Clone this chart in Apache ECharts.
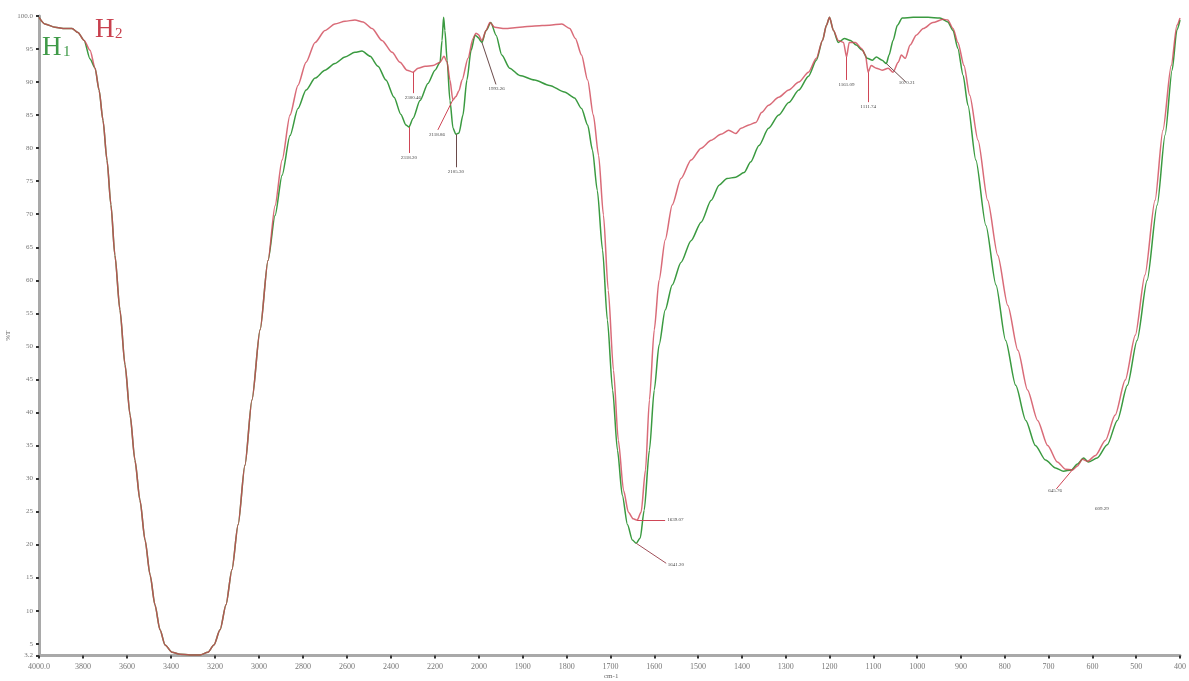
<!DOCTYPE html>
<html>
<head>
<meta charset="utf-8">
<script src="https://cdn.jsdelivr.net/npm/echarts@6/dist/echarts.min.js"></script>
<style>
  html, body { margin: 0; padding: 0; background: #ffffff; }
  #chart { width: 1189px; height: 681px; }
</style>
</head>
<body>
<div id="chart"></div>
<script>
// FTIR transmittance spectra of H1 and H2 (wavenumber in cm-1, transmittance in %T)
const h1Wn = [4000, 3973, 3927, 3882, 3850, 3823, 3795, 3768, 3745, 3727, 3709, 3691, 3673, 3655, 3632, 3609, 3586, 3564, 3541, 3518, 3495, 3473, 3450, 3427, 3395, 3359, 3314, 3268, 3232, 3205, 3177, 3150, 3123, 3095, 3064, 3032, 2995, 2959,
  2927, 2895, 2859, 2823, 2786, 2745, 2700, 2655, 2609, 2564, 2532, 2495, 2459, 2423, 2386, 2355, 2332, 2318.20, 2300, 2268, 2232, 2200, 2177, 2168, 2161, 2155, 2145, 2132, 2118, 2105.30, 2091, 2073, 2055, 2036, 2018, 2000,
  1993.26, 1984, 1973, 1961, 1948, 1930, 1907, 1873, 1839, 1805, 1782, 1766, 1752, 1741, 1730, 1718, 1707, 1695, 1684, 1673, 1661, 1650, 1641.20, 1632, 1623, 1611, 1600, 1589, 1575, 1559, 1539, 1516, 1493, 1470, 1452, 1434, 1414, 1395, 1380, 1361, 1339, 1316, 1293, 1270, 1248, 1230, 1216, 1207, 1200, 1191, 1180, 1166, 1152, 1139, 1125, 1114, 1102, 1093, 1080, 1070.21, 1064, 1055, 1045, 1034, 1009, 975, 948, 930, 918, 907, 895, 884, 866, 843, 820, 798, 775, 752, 730, 707, 684, 666, 648, 634, 620, 609.29, 589, 566, 543, 520, 498, 475, 452, 434, 418, 407, 400];
const h1T = [99.8, 98.8, 98.3, 98.1, 98.1, 97.5, 96.3, 93.5, 92.1, 88.8, 84.2, 78.2, 71.4, 63.8, 55.5, 47.2, 39.6, 32.8, 26.7, 20.7, 15.4, 10.9, 7.1, 4.8, 3.7, 3.4, 3.3, 3.3, 3.7, 4.8, 7.1, 10.9, 16.2, 23.0, 32.0, 41.9, 52.5, 63.0,
  69.8, 75.9, 81.9, 86.0, 88.8, 90.6, 91.8, 92.8, 93.8, 94.5, 94.7, 93.9, 92.4, 90.3, 87.7, 85.1, 83.5, 83.2, 84.5, 87.2, 89.8, 91.8, 93.0, 96.3, 99.8, 97.8, 93.3, 87.2, 83.0, 82.1, 82.3, 85.0, 90.3, 94.8, 97.1, 96.6,
  96.0, 97.8, 99.0, 97.1, 94.1, 92.1, 91.0, 90.3, 89.5, 88.5, 87.6, 86.0, 83.5, 79.7, 73.6, 64.6, 54.0, 43.4, 34.3, 27.5, 23.0, 20.7, 20.2, 21.0, 25.2, 34.3, 43.4, 50.2, 55.5, 59.3, 62.7, 66.0, 68.8, 72.1, 74.4, 75.4, 75.6, 76.3, 77.9, 80.4, 83.0, 85.0, 86.9, 88.8, 90.9, 93.3, 96.3, 98.6, 99.8, 97.8, 96.0, 96.6, 96.3, 95.6, 94.8, 93.6, 93.3, 93.8, 93.3, 92.8, 94.1, 96.3, 98.6, 99.7, 99.8, 99.8, 99.7, 99.1, 97.8, 95.1, 91.0, 86.5, 78.2, 68.3, 59.3, 50.9, 44.1, 38.8, 35.0, 32.8, 31.6, 31.1, 31.3, 32.2, 33.1, 32.5, 33.1, 35.1, 38.8, 44.1, 50.9, 60.0, 71.4, 82.0, 91.8, 97.9, 99.4];

const h2Wn = [4000, 3973, 3927, 3882, 3850, 3823, 3795, 3768, 3745, 3727, 3709, 3691, 3673, 3655, 3632, 3609, 3586, 3564, 3541, 3518, 3495, 3473, 3450, 3427, 3395, 3359, 3314, 3268, 3232, 3205, 3177, 3150, 3123, 3095, 3064, 3032, 2995, 2959,
  2927, 2895, 2859, 2823, 2786, 2745, 2700, 2655, 2609, 2564, 2527, 2486, 2441, 2395, 2359, 2327, 2300.46, 2277, 2245, 2209, 2177, 2159, 2145, 2132, 2118.86, 2105, 2091, 2077, 2050, 2027, 2014, 2000,
  1993, 1984, 1975, 1964, 1941, 1907, 1873, 1839, 1811, 1793, 1780, 1766, 1752, 1739, 1727, 1716, 1705, 1693, 1682, 1670, 1659, 1648, 1639.07, 1630, 1620, 1611, 1600, 1589, 1575, 1559, 1539, 1516, 1493, 1470, 1448, 1430, 1414, 1402, 1384, 1368, 1355, 1339, 1316, 1293, 1270, 1248, 1230, 1216, 1207, 1200, 1191, 1180, 1168, 1161.09, 1155, 1141, 1127, 1118, 1111.74, 1105, 1093, 1080, 1066, 1055, 1043, 1036, 1027, 1016, 1002, 986, 964, 941, 930, 918, 907, 893, 880, 861, 839, 816, 793, 770, 748, 725, 702, 680, 661, 645.76, 634, 623, 611, 593, 570, 548, 525, 502, 480, 457, 439, 420, 407, 400];
const h2T = [99.8, 98.8, 98.3, 98.1, 98.1, 97.5, 96.3, 94.8, 92.1, 88.8, 84.2, 78.2, 71.4, 63.8, 55.5, 47.2, 39.6, 32.8, 26.7, 20.7, 15.4, 10.9, 7.1, 4.8, 3.7, 3.4, 3.3, 3.3, 3.7, 4.8, 7.1, 10.9, 16.2, 23.0, 32.0, 41.9, 52.5, 63.0,
  71.3, 78.2, 85.0, 89.5, 93.0, 96.0, 97.8, 98.8, 99.2, 99.4, 99.1, 98.1, 96.3, 94.5, 93.0, 91.8, 91.5, 92.1, 92.4, 92.5, 93.0, 93.9, 93.0, 90.3, 87.3, 87.8, 88.7, 90.3, 93.6, 96.6, 97.4, 97.1,
  96.3, 97.8, 99.0, 98.3, 98.1, 98.3, 98.5, 98.6, 98.8, 98.1, 96.6, 94.1, 90.3, 85.0, 78.9, 69.9, 58.5, 46.4, 35.8, 28.2, 24.9, 23.9, 23.7, 24.9, 31.3, 41.9, 52.5, 60.0, 66.1, 71.4, 75.4, 78.2, 80.0, 81.2, 82.1, 82.7, 82.2, 83.0, 83.5, 83.9, 85.4, 86.5, 87.7, 88.8, 90.0, 91.5, 93.6, 96.3, 98.6, 99.8, 97.8, 96.3, 96.0, 93.8, 96.0, 96.0, 95.1, 94.1, 91.5, 92.5, 92.1, 91.8, 92.1, 91.5, 93.0, 94.1, 93.6, 95.6, 97.1, 98.1, 99.0, 99.5, 99.4, 98.1, 96.0, 92.5, 88.0, 81.2, 72.1, 63.8, 56.2, 49.4, 43.4, 38.8, 35.0, 32.5, 31.4, 31.3, 31.9, 32.9, 32.6, 33.5, 35.8, 39.6, 44.9, 51.7, 60.8, 72.1, 82.7, 92.5, 98.6, 99.7];

// Labelled band positions (cm-1) and the spectrum each belongs to
const peakWn = [2300.46, 2318.20, 2118.86, 2105.30, 1993.26, 1639.07, 1641.20, 1161.09, 1111.74, 1070.21, 645.76, 609.29];
const peakSeries = ['H2', 'H1', 'H2', 'H1', 'H1', 'H2', 'H1', 'H2', 'H2', 'H1', 'H2', 'H1'];

// Axis tick values
const yTickValues = [3.2, 5, 10, 15, 20, 25, 30, 35, 40, 45, 50, 55, 60, 65, 70, 75, 80, 85, 90, 95, 100];

const RED = '#cf4656';
const GREEN = '#3a9a40';
const LEADER_DARK = '#6a4a4a';

// Leader line offsets in pixels from the band point to its label
const leaderLayout = [
  { dx: 0, dy: 21, color: RED },
  { dx: 0, dy: 26, color: RED },
  { dx: -15, dy: 30, color: RED },
  { dx: 0, dy: 33, color: LEADER_DARK },
  { dx: 14, dy: 42, color: LEADER_DARK },
  { dx: 28, dy: 0, color: RED },
  { dx: 30, dy: 20, color: '#a0505a' },
  { dx: 0, dy: 23, color: RED },
  { dx: 0, dy: 30, color: RED },
  { dx: 19, dy: 18, color: LEADER_DARK },
  { dx: -16, dy: 19, color: RED },
  { dx: 13, dy: 42, color: 'rgba(0,0,0,0)' }
];

function pairs(wn, t, lo, hi) {
  const out = [];
  for (let i = 0; i < wn.length; i++) {
    if (wn[i] >= lo && wn[i] <= hi) out.push([wn[i], t[i]]);
  }
  return out;
}

const FONT = '"Liberation Serif", "DejaVu Serif", serif';
const axisLineStyle = { color: '#a9a9a9', width: 3 };
const tickStyle = { color: '#333', width: 2 };

const GRID_TOP = 16;
const GRID_H = 639.6;

const chart = echarts.init(document.getElementById('chart'), null, { renderer: 'canvas' });

const lineCommon = {
  type: 'line',
  showSymbol: false,
  symbol: 'none',
  smooth: 0.25,
  smoothMonotone: 'x',
  animation: false,
  clip: false
};

const option = {
  backgroundColor: '#ffffff',
  animation: false,
  grid: [
    { left: 39, top: GRID_TOP, width: 440, height: GRID_H },
    { left: 479, top: GRID_TOP, width: 704, height: GRID_H }
  ],
  xAxis: [
    {
      gridIndex: 0, type: 'value', min: 2000, max: 4000, interval: 200, inverse: true,
      axisLine: { lineStyle: axisLineStyle },
      axisTick: { length: 3, lineStyle: tickStyle },
      splitLine: { show: false },
      axisLabel: {
        margin: 7, fontSize: 8, color: '#777', fontFamily: FONT,
        formatter: v => (v === 4000 ? '4000.0' : String(v))
      }
    },
    {
      gridIndex: 1, type: 'value', min: 400, max: 2000, interval: 100, inverse: true,
      axisLine: { lineStyle: axisLineStyle },
      axisTick: { length: 3, lineStyle: tickStyle },
      splitLine: { show: false },
      axisLabel: {
        margin: 7, fontSize: 8, color: '#777', fontFamily: FONT,
        showMaxLabel: false,
        formatter: v => String(v)
      }
    }
  ],
  yAxis: [
    {
      gridIndex: 0, type: 'value', min: 3.2, max: 100,
      name: '%T', nameLocation: 'middle', nameGap: 27, nameRotate: 90,
      nameTextStyle: { fontSize: 7, color: '#666', fontFamily: FONT },
      axisLine: { show: true, lineStyle: axisLineStyle },
      axisTick: { show: true, length: 3, lineStyle: tickStyle, customValues: yTickValues },
      splitLine: { show: false },
      axisLabel: {
        margin: 6, fontSize: 7, color: '#777', fontFamily: FONT,
        customValues: yTickValues,
        formatter: v => (v === 100 ? '100.0' : String(v))
      }
    },
    {
      gridIndex: 1, type: 'value', min: 3.2, max: 100, show: false,
      splitLine: { show: false }
    }
  ],
  series: [
    Object.assign({}, lineCommon, {
      id: 'h1L', name: 'H1', xAxisIndex: 0, yAxisIndex: 0,
      data: pairs(h1Wn, h1T, 2000, 4000),
      lineStyle: { color: GREEN, width: 1.5 }, z: 2
    }),
    Object.assign({}, lineCommon, {
      id: 'h1R', name: 'H1', xAxisIndex: 1, yAxisIndex: 1,
      data: pairs(h1Wn, h1T, 400, 2000),
      lineStyle: { color: GREEN, width: 1.5 }, z: 2
    }),
    Object.assign({}, lineCommon, {
      id: 'h2L', name: 'H2', xAxisIndex: 0, yAxisIndex: 0,
      data: pairs(h2Wn, h2T, 2000, 4000),
      lineStyle: { color: RED, width: 1.5, opacity: 0.8 }, z: 3
    }),
    Object.assign({}, lineCommon, {
      id: 'h2R', name: 'H2', xAxisIndex: 1, yAxisIndex: 1,
      data: pairs(h2Wn, h2T, 400, 2000),
      lineStyle: { color: RED, width: 1.5, opacity: 0.8 }, z: 3
    })
  ],
  graphic: [
    { type: 'text', left: 95, top: 16, style: { text: 'H', fontSize: 27, fontFamily: FONT, fill: '#c8404e' } },
    { type: 'text', left: 115, top: 27, style: { text: '2', fontSize: 15, fontFamily: FONT, fill: '#c8404e' } },
    { type: 'text', left: 42, top: 34, style: { text: 'H', fontSize: 27, fontFamily: FONT, fill: '#3f9a48' } },
    { type: 'text', left: 63, top: 45, style: { text: '1', fontSize: 15, fontFamily: FONT, fill: '#3f9a48' } },
    { type: 'text', left: 604, top: 673, style: { text: 'cm-1', fontSize: 7, fontFamily: FONT, fill: '#666' } }
  ]
};

chart.setOption(option);

// Leader lines with band labels, anchored to the spectrum points
const leaders = {};
peakWn.forEach((wn, i) => {
  const isH1 = peakSeries[i] === 'H1';
  const wns = isH1 ? h1Wn : h2Wn;
  const ts = isH1 ? h1T : h2T;
  const t = ts[wns.indexOf(wn)];
  const g = wn > 2000 ? 0 : 1;
  const id = (isH1 ? 'h1' : 'h2') + (g === 0 ? 'L' : 'R');
  const finder = { xAxisIndex: g, yAxisIndex: g };
  const p = chart.convertToPixel(finder, [wn, t]);
  const lay = leaderLayout[i];
  const end = chart.convertFromPixel(finder, [p[0] + lay.dx, p[1] + lay.dy]);
  (leaders[id] = leaders[id] || []).push([
    {
      coord: [wn, t],
      lineStyle: { color: lay.color, width: 1, type: 'solid' },
      label: {
        show: true, position: 'end', distance: 2,
        formatter: wn.toFixed(2),
        fontSize: 5, color: '#444', fontFamily: FONT
      }
    },
    { coord: end }
  ]);
});

chart.setOption({
  series: Object.keys(leaders).map(id => ({
    id: id,
    markLine: {
      silent: true,
      animation: false,
      symbol: 'none',
      data: leaders[id]
    }
  }))
});
</script>
</body>
</html>
